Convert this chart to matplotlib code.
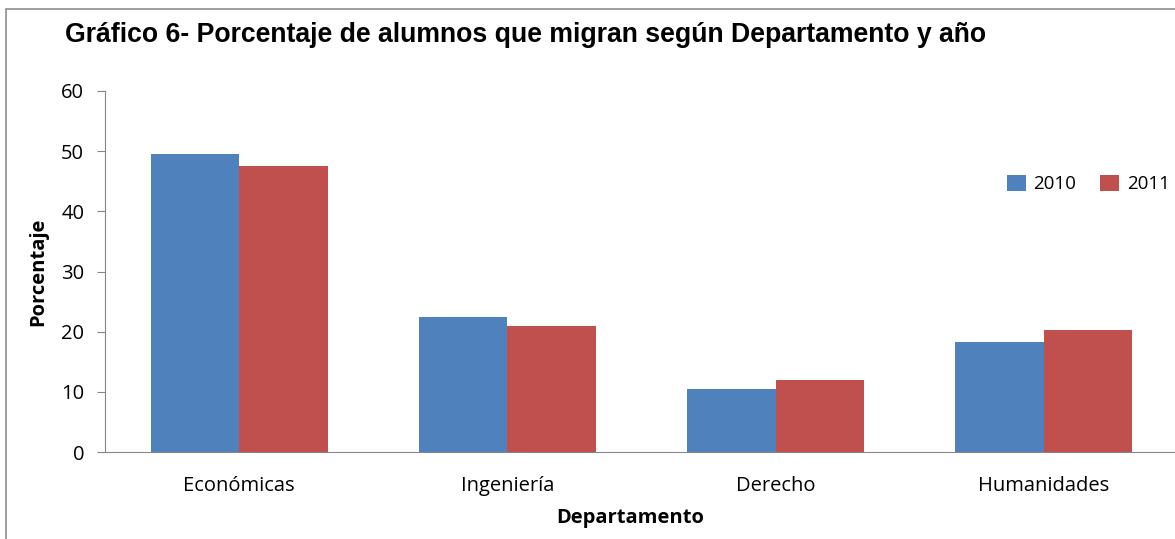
import matplotlib.pyplot as plt
import numpy as np
from matplotlib.patches import Rectangle

categorias = ["Económicas", "Ingeniería", "Derecho", "Humanidades"]
anios = ["2010", "2011"]
valores_2010 = [49.6, 22.4, 10.4, 18.2]
valores_2011 = [47.5, 20.9, 11.9, 20.3]
colores = ["#4F81BD", "#C0504D"]

W, H = 1175, 539
fig = plt.figure(figsize=(W / 100, H / 100), dpi=100)

# marco del gráfico (recortado a la derecha y abajo)
fig.patches.append(Rectangle((6 / W, -0.1), 1.2, 1 - 9 / H + 0.1, transform=fig.transFigure,
                             fill=False, edgecolor="#8c8c8c", linewidth=1.2))

ax = fig.add_axes([105 / W, (H - 452) / H, 1073 / W, 361 / H])
x = np.arange(len(categorias))
ancho = 0.33
ax.bar(x - ancho / 2, valores_2010, ancho, color=colores[0], label=anios[0])
ax.bar(x + ancho / 2, valores_2011, ancho, color=colores[1], label=anios[1])

ax.set_xlim(-0.5, len(categorias) - 0.5)
ax.set_ylim(0, 60)
ax.set_yticks(range(0, 61, 10))
ax.set_xticks(x)
ax.set_xticklabels(categorias, fontfamily="Open Sans", fontsize=14.5)
for t in ax.get_yticklabels():
    t.set_fontfamily("Open Sans")
    t.set_fontsize(14.5)
ax.tick_params(axis="y", length=6, color="#868686", pad=9)
ax.tick_params(axis="x", length=0, pad=17)
for s in ["top", "right"]:
    ax.spines[s].set_visible(False)
ax.spines["left"].set_color("#868686")
ax.spines["bottom"].set_color("#868686")

fig.text(38 / W, 1 - 272 / H, "Porcentaje", rotation=90, ha="center", va="center",
         fontfamily="Open Sans", fontweight="bold", fontsize=14.5)
fig.text(630 / W, 1 - 518 / H, "Departamento", ha="center", va="center",
         fontfamily="Open Sans", fontweight="bold", fontsize=14.5)
fig.text(65 / W, 1 - 35 / H, "Gráfico 6- Porcentaje de alumnos que migran según Departamento y año",
         ha="left", va="center", fontfamily="Liberation Sans", fontweight="bold", fontsize=19.2)

leg = ax.legend(loc="center left", bbox_to_anchor=(990 / W, 1 - 184 / H),
                bbox_transform=fig.transFigure, ncol=2, frameon=False,
                handlelength=1.0, handleheight=1.0, handletextpad=0.4, columnspacing=1.3,
                prop={"family": "Open Sans", "size": 13.5})

fig.savefig("out.png", dpi=100)
